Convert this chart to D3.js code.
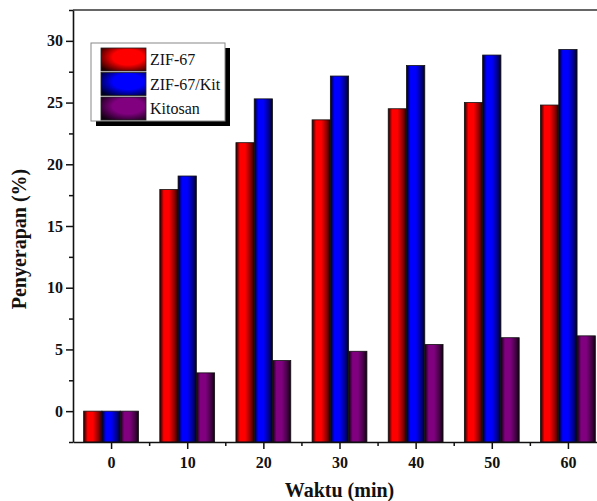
<!DOCTYPE html>
<html>
<head>
<meta charset="utf-8">
<script src="https://cdn.jsdelivr.net/npm/d3@7"></script>
<style>
  body { margin: 0; background: #fff; }
  svg { display: block; }
</style>
</head>
<body>
<div id="chart"></div>
<script>
// Data
const times = [0, 10, 20, 30, 40, 50, 60];
const seriesNames = ["ZIF-67", "ZIF-67/Kit", "Kitosan"];
const zif67 = [0, 17.95, 21.75, 23.6, 24.5, 25.0, 24.8];
const zif67Kit = [0, 19.05, 25.3, 27.15, 28.0, 28.85, 29.3];
const kitosan = [0, 3.1, 4.1, 4.85, 5.4, 5.95, 6.1];
const seriesValues = [zif67, zif67Kit, kitosan];
const colors = ["#ff0000", "#0000ff", "#800080"];
const yTicks = [0, 5, 10, 15, 20, 25, 30];
const yMinorTicks = [-2.5, 2.5, 7.5, 12.5, 17.5, 22.5, 27.5, 32.5];
const xTicks = [0, 10, 20, 30, 40, 50, 60];
const xMinorTicks = [5, 15, 25, 35, 45, 55];

const W = 597, H = 501;
const plot = { left: 73, right: 606, top: 10, bottom: 442 };
const serif = "'Liberation Serif', 'DejaVu Serif', serif";

const svg = d3.select("#chart").append("svg")
    .attr("width", W)
    .attr("height", H)
    .style("font-family", serif);

const defs = svg.append("defs");

// cylinder-like shading on bars
colors.forEach((c, i) => {
    const dark = d3.interpolateRgb(c, "#000")(0.88);
    const mid = d3.interpolateRgb(c, "#000")(0.45);
    const g = defs.append("linearGradient")
        .attr("id", "bar" + i)
        .attr("x1", 0).attr("x2", 1).attr("y1", 0).attr("y2", 0);
    g.append("stop").attr("offset", 0).attr("stop-color", dark);
    g.append("stop").attr("offset", 0.22).attr("stop-color", c);
    g.append("stop").attr("offset", 0.5).attr("stop-color", c);
    g.append("stop").attr("offset", 0.8).attr("stop-color", mid);
    g.append("stop").attr("offset", 1).attr("stop-color", dark);

    const r = defs.append("radialGradient")
        .attr("id", "leg" + i)
        .attr("cx", 0.6).attr("cy", 0.4).attr("r", 0.75);
    r.append("stop").attr("offset", 0).attr("stop-color", c);
    r.append("stop").attr("offset", 0.45).attr("stop-color", c);
    r.append("stop").attr("offset", 1).attr("stop-color", dark);
});

const x = d3.scaleLinear().domain([-5, 65]).range([plot.left, plot.right]);
const y = d3.scaleLinear().domain([-2.5, 32.5]).range([plot.bottom, plot.top]);

const barUnits = 2.4;
const barW = x(barUnits) - x(0);

// bars
seriesValues.forEach((vals, s) => {
    svg.append("g")
        .selectAll("rect")
        .data(vals)
        .join("rect")
        .attr("x", (d, i) => x(times[i]) + (s - 1.5) * barW)
        .attr("y", d => y(d))
        .attr("width", barW)
        .attr("height", d => y(-2.5) - y(d))
        .attr("fill", `url(#bar${s})`)
        .attr("stroke", "#111")
        .attr("stroke-width", 0.8);
});

// top frame line
svg.append("line")
    .attr("x1", plot.left).attr("x2", plot.right)
    .attr("y1", plot.top).attr("y2", plot.top)
    .attr("stroke", "#333")
    .attr("stroke-width", 1.5);

// axes
const yAxis = svg.append("g")
    .attr("transform", `translate(${plot.left},0)`)
    .call(d3.axisLeft(y).tickValues(yTicks).tickSize(7).tickSizeOuter(0).tickPadding(3));
const yMinor = svg.append("g")
    .attr("transform", `translate(${plot.left},0)`)
    .call(d3.axisLeft(y).tickValues(yMinorTicks).tickSize(4).tickFormat(""));
yMinor.select(".domain").remove();

const xAxis = svg.append("g")
    .attr("transform", `translate(0,${plot.bottom})`)
    .call(d3.axisBottom(x).tickValues(xTicks).tickSize(7).tickSizeOuter(0).tickPadding(8));
const xMinor = svg.append("g")
    .attr("transform", `translate(0,${plot.bottom})`)
    .call(d3.axisBottom(x).tickValues(xMinorTicks).tickSize(4).tickFormat(""));
xMinor.select(".domain").remove();

[yAxis, yMinor, xAxis, xMinor].forEach(a => {
    a.attr("font-family", serif);
    a.selectAll(".domain").attr("stroke", "#111").attr("stroke-width", 1.6);
    a.selectAll(".tick line").attr("stroke", "#111").attr("stroke-width", 1.5);
    a.selectAll("text")
        .style("font-family", serif)
        .attr("font-size", 16)
        .attr("font-weight", "bold")
        .attr("fill", "#111");
});

// axis titles
svg.append("text")
    .attr("x", (plot.left + plot.right) / 2)
    .attr("y", 497)
    .attr("text-anchor", "middle")
    .style("font-family", serif)
    .attr("font-size", 20)
    .attr("font-weight", "bold")
    .attr("fill", "#111")
    .text("Waktu (min)");

svg.append("text")
    .attr("transform", "translate(26,239) rotate(-90)")
    .attr("text-anchor", "middle")
    .style("font-family", serif)
    .attr("font-size", 20)
    .attr("font-weight", "bold")
    .attr("fill", "#111")
    .text("Penyerapan (%)");

// legend
const legend = svg.append("g");
legend.append("rect")
    .attr("x", 96).attr("y", 48)
    .attr("width", 134).attr("height", 78)
    .attr("fill", "#000");
legend.append("rect")
    .attr("x", 91).attr("y", 43)
    .attr("width", 134).attr("height", 78)
    .attr("fill", "#fff")
    .attr("stroke", "#888")
    .attr("stroke-width", 1);

const rowY = [48, 72.5, 97];
seriesNames.forEach((name, i) => {
    legend.append("rect")
        .attr("x", 101).attr("y", rowY[i])
        .attr("width", 45).attr("height", 23)
        .attr("fill", `url(#leg${i})`)
        .attr("stroke", "#222")
        .attr("stroke-width", 0.8);
    legend.append("text")
        .attr("x", 150)
        .attr("y", rowY[i] + 17)
        .style("font-family", serif)
        .attr("font-size", 16)
        .attr("fill", "#111")
        .text(name);
});
</script>
</body>
</html>
